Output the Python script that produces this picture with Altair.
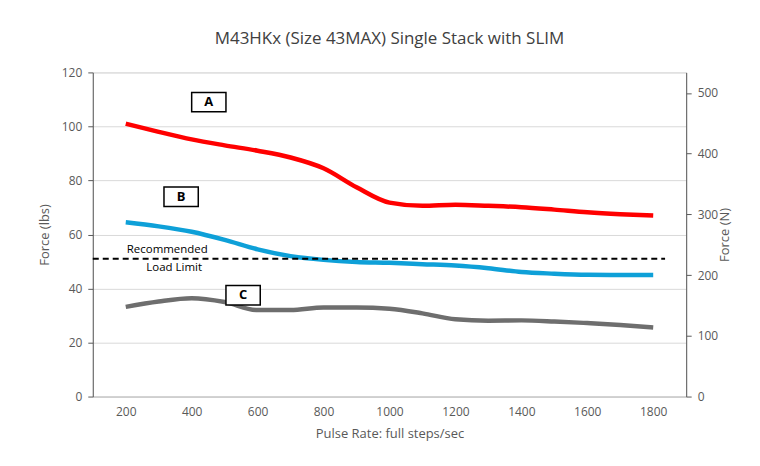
import pandas as pd
import altair as alt

pulse = [200, 300, 400, 500, 600, 700, 800, 900, 1000, 1100, 1200, 1300, 1400, 1500, 1600, 1700, 1800]
force_a = [101, 98, 95.2, 93, 91, 88.5, 84.5, 77.5, 71.8, 70.6, 71, 70.6, 70.1, 69.2, 68.2, 67.5, 67]
force_b = [64.5, 63, 61, 58, 54.5, 52, 50.6, 49.8, 49.5, 49, 48.5, 47.5, 46.1, 45.5, 45.1, 45, 45]
force_c = [33.2, 35.2, 36.4, 35, 32, 32, 33, 33, 32.5, 30.8, 28.6, 28.1, 28.2, 27.8, 27.2, 26.5, 25.6]
colors = {"A": "#FF0000", "B": "#0EA0D8", "C": "#6E6E6E"}

limit_lbs = 51
label_names = ["A", "B", "C"]
label_x = [452, 368, 556]
label_y = [109, 74, 37.5]

rows = []
for name, vals in zip(["A", "B", "C"], [force_a, force_b, force_c]):
    for p, v in zip(pulse, vals):
        rows.append({"pulse": p, "force": v, "curve": name})
df = pd.DataFrame(rows)

xscale = alt.Scale(domain=[100, 1900], nice=False, zero=False)
xaxis = alt.Axis(values=pulse[::2], format="d", title="Pulse Rate:  full steps/sec", grid=False,
                 ticks=False, domainColor="#BFBFBF", labelColor="#595959", titleColor="#595959",
                 labelFontSize=12, titleFontSize=13, titleFontWeight="normal", labelPadding=10,
                 titlePadding=10)
yscale = alt.Scale(domain=[0, 120], nice=False)

lines = alt.Chart(df).mark_line(strokeWidth=4.5, interpolate="monotone").encode(
    x=alt.X("pulse:Q", scale=xscale, axis=xaxis),
    y=alt.Y("force:Q", scale=yscale, axis=alt.Axis(values=list(range(0, 121, 20)), title="Force (lbs)",
            gridColor="#D9D9D9", domainColor="#595959", ticks=True, tickColor="#595959",
            labelColor="#595959", titleColor="#595959", labelFontSize=12, titleFontSize=13,
            titleFontWeight="normal", labelPadding=6, titlePadding=10)),
    color=alt.Color("curve:N", scale=alt.Scale(domain=list(colors), range=list(colors.values())), legend=None),
)

limit = alt.Chart(pd.DataFrame({"x": [100], "x2": [1836], "y": [limit_lbs]})).mark_rule(
    strokeDash=[6, 4], strokeWidth=2, color="black").encode(x="x:Q", x2="x2:Q", y="y:Q")

limit_text = alt.Chart(pd.DataFrame({"x": [326, 347], "y": [54.2, 47.6], "t": ["Recommended", "Load Limit"]})
                       ).mark_text(fontSize=11.5, color="black").encode(x="x:Q", y="y:Q", text="t:N")

lab = pd.DataFrame({"name": label_names, "x": label_x, "y": label_y})
lab["x0"] = lab["x"] - 52
lab["x1"] = lab["x"] + 52
lab["y0"] = lab["y"] - 3.6
lab["y1"] = lab["y"] + 3.6
boxes = alt.Chart(lab).mark_rect(fill="white", stroke="black", strokeWidth=1.5).encode(
    x="x0:Q", x2="x1:Q", y="y0:Q", y2="y1:Q")
box_text = alt.Chart(lab).mark_text(fontSize=13, fontWeight="bold", color="black").encode(
    x="x:Q", y="y:Q", text="name:N")

right = alt.Chart(pd.DataFrame({"n": [0, 533.8]})).mark_point(opacity=0).encode(
    x=alt.value(0),
    y=alt.Y("n:Q", scale=alt.Scale(domain=[0, 533.8], nice=False),
            axis=alt.Axis(orient="right", values=[0, 100, 200, 300, 400, 500], title="Force (N)", grid=False,
                          domainColor="#595959", tickColor="#595959", labelColor="#595959",
                          titleColor="#595959", labelFontSize=12, titleFontSize=13, titleAngle=270,
                          titleFontWeight="normal", labelPadding=6, titlePadding=14)),
)

left = alt.layer(lines, limit, limit_text, boxes, box_text)
chart = alt.layer(left, right).resolve_scale(y="independent").properties(
    width=595, height=325,
    title=alt.TitleParams("M43HKx (Size 43MAX) Single Stack with SLIM", fontSize=17,
                          fontWeight="normal", color="#404040", offset=18),
    padding={"left": 30, "top": 22, "right": 20, "bottom": 10},
).configure_view(stroke=None).configure(font="Open Sans")

chart.save("out.html", embed_options={"renderer": "svg", "actions": False})
